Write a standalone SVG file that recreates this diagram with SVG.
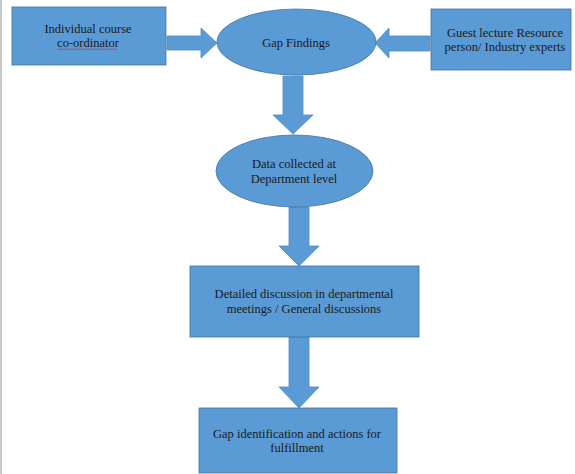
<svg xmlns="http://www.w3.org/2000/svg" width="575" height="474" viewBox="0 0 575 474">
<style>
.shape{fill:#5b9bd5;stroke:#41719c;stroke-width:0.8}
.arrow{fill:#5b9bd5;stroke:#4f8cc4;stroke-width:0.8}
text{font-family:"Liberation Serif","Times New Roman",serif;font-size:12.5px;fill:#1a1a1a;text-anchor:middle}
</style>
<rect x="0" y="0" width="575" height="474" fill="#ffffff"/>
<line x1="1" y1="0" x2="1" y2="474" stroke="#c8c8c8" stroke-width="2"/>
<g id="connectors">
<polygon class="arrow" points="167,36 201,36 201,28 217,43 201,58 201,50 167,50"/>
<polygon class="arrow" points="430,36 389,36 389,28 375,43 389,58 389,51 430,51"/>
<polygon class="arrow" points="283,76 303,76 303,115 313,115 293,134 273,115 283,115"/>
<polygon class="arrow" points="289,207 309,207 309,246 319,246 299,266 279,246 289,246"/>
<polygon class="arrow" points="289,337 309,337 309,387 319,387 299,408 279,387 289,387"/>
</g>
<g id="n1">
<rect class="shape" x="12" y="7" width="154" height="58"/>
<text x="88" y="33">Individual course</text>
<text x="88" y="47">co-ordinator</text>
<path d="M57,50 l1.5,-1.5 l1.5,1.5 l1.5,-1.5 l1.5,1.5 l1.5,-1.5 l1.5,1.5 l1.5,-1.5 l1.5,1.5 l1.5,-1.5 l1.5,1.5 l1.5,-1.5 l1.5,1.5 l1.5,-1.5 l1.5,1.5 l1.5,-1.5 l1.5,1.5 l1.5,-1.5 l1.5,1.5 l1.5,-1.5 l1.5,1.5 l1.5,-1.5 l1.5,1.5 l1.5,-1.5 l1.5,1.5 l1.5,-1.5 l1.5,1.5 l1.5,-1.5 l1.5,1.5 l1.5,-1.5 l1.5,1.5 l1.5,-1.5 l1.5,1.5 l1.5,-1.5 l1.5,1.5 l1.5,-1.5 l1.5,1.5 l1.5,-1.5 l1.5,1.5 l1.5,-1.5 l1.5,1.5" fill="none" stroke="#d42a2a" stroke-width="0.7"/>
</g>
<g id="n2">
<ellipse class="shape" cx="296.5" cy="42" rx="79.5" ry="33"/>
<text x="296" y="47">Gap Findings</text>
</g>
<g id="n3">
<rect class="shape" x="431" y="9" width="140" height="61"/>
<text x="505" y="37">Guest lecture Resource</text>
<text x="505" y="51">person/ Industry experts</text>
</g>
<g id="n4">
<ellipse class="shape" cx="294.5" cy="171" rx="78.5" ry="36"/>
<text x="294" y="168">Data collected at</text>
<text x="294" y="183">Department level</text>
</g>
<g id="n5">
<rect class="shape" x="190" y="266" width="229" height="71"/>
<text x="304" y="298">Detailed discussion in departmental</text>
<text x="304" y="313">meetings / General discussions</text>
</g>
<g id="n6">
<rect class="shape" x="199" y="408" width="198" height="65"/>
<text x="297" y="438">Gap identification and actions for</text>
<text x="297" y="452">fulfillment</text>
</g>
</svg>
